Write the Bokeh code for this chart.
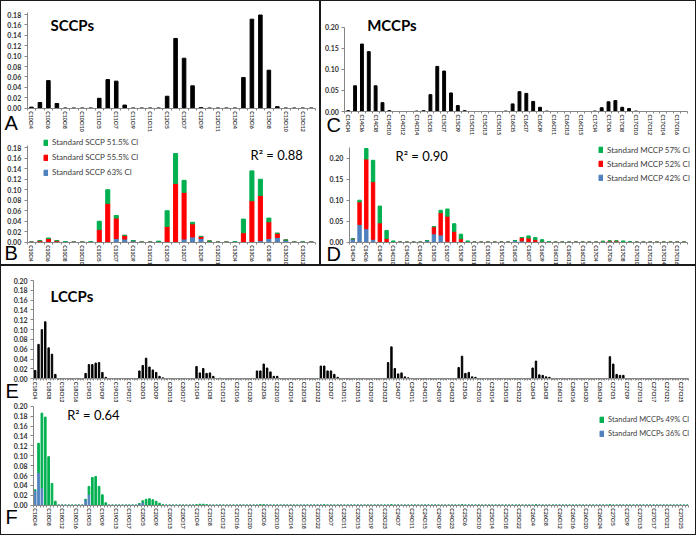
import math
from bokeh.plotting import figure
from bokeh.models import Range1d, FixedTicker, PrintfTickFormatter, Label, Legend, LegendItem, ColumnDataSource
from bokeh.layouts import column, row
from bokeh.embed import file_html
from bokeh.resources import INLINE

# ---------------- categories ----------------
SCCP_CARBONS = [10, 11, 12, 13]
MCCP_CARBONS = [14, 15, 16, 17]
LCCP_CARBONS = [18, 19, 20, 21, 22, 23, 24, 25, 26, 27]


def homologues(carbons):
    return [f"C{c}Cl{n}" for c in carbons for n in range(4, c + 1)]


sccp_cats = homologues(SCCP_CARBONS)
mccp_cats = homologues(MCCP_CARBONS)
lccp_cats = homologues(LCCP_CARBONS)

SCCP_TICK_LABELS = ["C10Cl4", "C10Cl6", "C10Cl8", "C10Cl10", "C11Cl5", "C11Cl7", "C11Cl9", "C11Cl11",
                    "C12Cl5", "C12Cl7", "C12Cl9", "C12Cl11", "C13Cl4", "C13Cl6", "C13Cl8", "C13Cl10", "C13Cl12"]
MCCP_TICK_LABELS = ["C14Cl4", "C14Cl6", "C14Cl8", "C14Cl10", "C14Cl12", "C14Cl14",
                    "C15Cl5", "C15Cl7", "C15Cl9", "C15Cl11", "C15Cl13", "C15Cl15",
                    "C16Cl5", "C16Cl7", "C16Cl9", "C16Cl11", "C16Cl13", "C16Cl15",
                    "C17Cl4", "C17Cl6", "C17Cl8", "C17Cl10", "C17Cl12", "C17Cl14", "C17Cl16"]
LCCP_TICK_LABELS = ["C18Cl4", "C18Cl8", "C18Cl12", "C18Cl16", "C19Cl5", "C19Cl9", "C19Cl13", "C19Cl17",
                    "C20Cl5", "C20Cl9", "C20Cl13", "C20Cl17", "C21Cl4", "C21Cl8", "C21Cl12", "C21Cl16", "C21Cl20",
                    "C22Cl6", "C22Cl10", "C22Cl14", "C22Cl18", "C22Cl22", "C23Cl7", "C23Cl11", "C23Cl15", "C23Cl19",
                    "C23Cl23", "C24Cl7", "C24Cl11", "C24Cl15", "C24Cl19", "C24Cl23", "C25Cl6", "C25Cl10", "C25Cl14",
                    "C25Cl18", "C25Cl22", "C26Cl4", "C26Cl8", "C26Cl12", "C26Cl16", "C26Cl20", "C26Cl24",
                    "C27Cl5", "C27Cl9", "C27Cl13", "C27Cl17", "C27Cl21", "C27Cl25"]

# ---------------- data (relative abundance) ----------------
SCCP_SAMPLE = {"C10Cl4": 0.002, "C10Cl5": 0.011, "C10Cl6": 0.053, "C10Cl7": 0.009,
               "C11Cl5": 0.019, "C11Cl6": 0.055, "C11Cl7": 0.052, "C11Cl8": 0.006,
               "C12Cl5": 0.023, "C12Cl6": 0.134, "C12Cl7": 0.096, "C12Cl8": 0.043, "C12Cl9": 0.001,
               "C13Cl5": 0.059, "C13Cl6": 0.171, "C13Cl7": 0.179, "C13Cl8": 0.073, "C13Cl9": 0.003}

SCCP_STD_63 = {"C11Cl7": 0.007, "C11Cl8": 0.006, "C11Cl9": 0.003, "C12Cl6": 0.001, "C12Cl7": 0.006,
               "C12Cl8": 0.010, "C12Cl9": 0.007, "C12Cl10": 0.002, "C13Cl6": 0.001, "C13Cl7": 0.003,
               "C13Cl8": 0.007, "C13Cl9": 0.009, "C13Cl10": 0.004}
SCCP_STD_555 = {"C10Cl5": 0.003, "C10Cl6": 0.007, "C10Cl7": 0.003, "C11Cl5": 0.024, "C11Cl6": 0.074,
                "C11Cl7": 0.039, "C11Cl8": 0.007, "C12Cl5": 0.030, "C12Cl6": 0.111, "C12Cl7": 0.089,
                "C12Cl8": 0.025, "C12Cl9": 0.004, "C13Cl5": 0.018, "C13Cl6": 0.078, "C13Cl7": 0.086,
                "C13Cl8": 0.032, "C13Cl9": 0.008}
SCCP_STD_515 = {"C10Cl6": 0.001, "C10Cl8": 0.001, "C11Cl4": 0.001, "C11Cl5": 0.016, "C11Cl6": 0.026,
                "C11Cl7": 0.005, "C12Cl4": 0.002, "C12Cl5": 0.030, "C12Cl6": 0.057, "C12Cl7": 0.023,
                "C12Cl8": 0.003, "C13Cl4": 0.001, "C13Cl5": 0.026, "C13Cl6": 0.057, "C13Cl7": 0.031,
                "C13Cl8": 0.007, "C13Cl12": 0.0005}

MCCP_SAMPLE = {"C14Cl4": 0.002, "C14Cl5": 0.061, "C14Cl6": 0.160, "C14Cl7": 0.142, "C14Cl8": 0.061,
               "C14Cl9": 0.021, "C14Cl10": 0.002, "C14Cl14": 0.001,
               "C15Cl4": 0.002, "C15Cl5": 0.040, "C15Cl6": 0.107, "C15Cl7": 0.096, "C15Cl8": 0.044,
               "C15Cl9": 0.014, "C15Cl10": 0.002,
               "C16Cl4": 0.001, "C16Cl5": 0.018, "C16Cl6": 0.047, "C16Cl7": 0.043, "C16Cl8": 0.024,
               "C16Cl9": 0.010, "C16Cl10": 0.001,
               "C17Cl4": 0.001, "C17Cl5": 0.009, "C17Cl6": 0.023, "C17Cl7": 0.026, "C17Cl8": 0.010,
               "C17Cl9": 0.007, "C17Cl10": 0.001}

MCCP_STD_42 = {"C14Cl4": 0.008, "C14Cl5": 0.042, "C14Cl6": 0.032, "C14Cl7": 0.007,
               "C15Cl4": 0.004, "C15Cl5": 0.020, "C15Cl6": 0.017, "C15Cl7": 0.002,
               "C16Cl5": 0.004, "C16Cl6": 0.003}
MCCP_STD_52 = {"C14Cl5": 0.054, "C14Cl6": 0.166, "C14Cl7": 0.137, "C14Cl8": 0.046, "C14Cl9": 0.009,
               "C15Cl5": 0.017, "C15Cl6": 0.053, "C15Cl7": 0.060, "C15Cl8": 0.026, "C15Cl9": 0.008,
               "C16Cl6": 0.008, "C16Cl7": 0.010, "C16Cl8": 0.006, "C16Cl9": 0.002,
               "C17Cl5": 0.002, "C17Cl6": 0.003, "C17Cl7": 0.003}
MCCP_STD_57 = {"C14Cl5": 0.004, "C14Cl6": 0.025, "C14Cl7": 0.051, "C14Cl8": 0.040, "C14Cl9": 0.019,
               "C14Cl10": 0.003, "C15Cl6": 0.006, "C15Cl7": 0.017, "C15Cl8": 0.018, "C15Cl9": 0.011,
               "C15Cl10": 0.003, "C16Cl7": 0.005, "C16Cl8": 0.005, "C16Cl9": 0.004, "C16Cl10": 0.001,
               "C17Cl8": 0.003, "C17Cl9": 0.001}

LCCP_SAMPLE = {"C18Cl4": 0.017, "C18Cl5": 0.070, "C18Cl6": 0.100, "C18Cl7": 0.116, "C18Cl8": 0.063,
               "C18Cl9": 0.050, "C18Cl10": 0.009,
               "C19Cl4": 0.011, "C19Cl5": 0.029, "C19Cl6": 0.029, "C19Cl7": 0.032, "C19Cl8": 0.033,
               "C19Cl9": 0.013, "C19Cl10": 0.003,
               "C20Cl4": 0.016, "C20Cl5": 0.027, "C20Cl6": 0.042, "C20Cl7": 0.024, "C20Cl8": 0.018,
               "C20Cl9": 0.013, "C20Cl10": 0.005, "C20Cl11": 0.002,
               "C21Cl4": 0.025, "C21Cl5": 0.012, "C21Cl6": 0.021, "C21Cl7": 0.011, "C21Cl8": 0.012,
               "C21Cl9": 0.005, "C21Cl11": 0.001,
               "C22Cl4": 0.016, "C22Cl5": 0.016, "C22Cl6": 0.030, "C22Cl7": 0.022, "C22Cl8": 0.014,
               "C22Cl9": 0.005, "C22Cl10": 0.005,
               "C23Cl4": 0.026, "C23Cl5": 0.026, "C23Cl6": 0.016, "C23Cl7": 0.016, "C23Cl8": 0.009,
               "C23Cl9": 0.003,
               "C24Cl4": 0.033, "C24Cl5": 0.065, "C24Cl6": 0.021, "C24Cl7": 0.010, "C24Cl8": 0.012,
               "C24Cl9": 0.004, "C24Cl10": 0.002,
               "C25Cl4": 0.023, "C25Cl5": 0.046, "C25Cl6": 0.011, "C25Cl7": 0.013, "C25Cl8": 0.004,
               "C25Cl9": 0.003,
               "C26Cl4": 0.022, "C26Cl5": 0.036, "C26Cl6": 0.008, "C26Cl7": 0.007, "C26Cl8": 0.004,
               "C26Cl9": 0.003,
               "C27Cl4": 0.045, "C27Cl5": 0.030, "C27Cl6": 0.009, "C27Cl7": 0.007, "C27Cl8": 0.007}

LCCP_STD_36 = {"C18Cl4": 0.030, "C18Cl5": 0.066, "C18Cl6": 0.035, "C19Cl4": 0.011, "C19Cl5": 0.022,
               "C20Cl4": 0.003, "C20Cl5": 0.006}
LCCP_STD_49 = {"C18Cl4": 0.001, "C18Cl5": 0.059, "C18Cl6": 0.151, "C18Cl7": 0.178, "C18Cl8": 0.098,
               "C18Cl9": 0.044, "C18Cl10": 0.008,
               "C19Cl4": 0.001, "C19Cl5": 0.016, "C19Cl6": 0.056, "C19Cl7": 0.058, "C19Cl8": 0.038,
               "C19Cl9": 0.021, "C19Cl10": 0.005,
               "C20Cl5": 0.003, "C20Cl6": 0.012, "C20Cl7": 0.013, "C20Cl8": 0.011, "C20Cl9": 0.008,
               "C20Cl10": 0.004, "C20Cl11": 0.001,
               "C21Cl4": 0.001, "C21Cl5": 0.002, "C21Cl6": 0.002, "C21Cl7": 0.001,
               "C22Cl5": 0.001, "C22Cl6": 0.001, "C23Cl5": 0.001, "C24Cl5": 0.001,
               "C25Cl5": 0.001, "C26Cl5": 0.001, "C27Cl4": 0.001}

Y_SCCP = [0.00, 0.02, 0.04, 0.06, 0.08, 0.10, 0.12, 0.14, 0.16, 0.18]
Y_MCCP = [0.00, 0.05, 0.10, 0.15, 0.20]
Y_LCCP = [0.00, 0.02, 0.04, 0.06, 0.08, 0.10, 0.12, 0.14, 0.16, 0.18, 0.20]

GREEN = "#00B050"
RED = "#FF0000"
BLUE = "#4F81BD"
AXIS = "#868686"
TXT = "#333333"
FONT = "Lato"


def series(cats, d):
    return [d.get(c, 0.0) for c in cats]


class Panel:
    """A figure whose frame fills the whole canvas; its axes are pinned inside it."""

    def __init__(self, width, height, cats, tick_labels, yticks, ybound, geo, xfont):
        # geo: pixel of first category edge, pixel of last category edge,
        #      pixel (from top) of the top tick, value of that tick, pixel of zero
        xl, xr, yt_px, yt_val, y0_px = geo
        n = len(cats)
        self.width, self.height = width, height
        self.sx = (xr - xl) / n
        self.sy = (y0_px - yt_px) / yt_val
        self.x0 = -0.5 - xl / self.sx
        x1 = n - 0.5 + (width - xr) / self.sx
        y0 = -(height - y0_px) / self.sy
        self.y1 = yt_val + yt_px / self.sy
        p = figure(width=width, height=height, x_range=Range1d(self.x0, x1), y_range=Range1d(y0, self.y1),
                   output_backend="svg", toolbar_location=None, title=None, min_border=0)
        p.xgrid.visible = False
        p.ygrid.visible = False
        p.outline_line_color = None
        p.background_fill_color = "white"
        p.border_fill_color = "white"
        pos = [cats.index(t) for t in tick_labels]
        xa, ya = p.xaxis[0], p.yaxis[0]
        xa.fixed_location = 0
        xa.bounds = (-0.5, n - 0.5)
        xa.ticker = FixedTicker(ticks=pos, minor_ticks=[i - 0.5 for i in range(n + 1)])
        xa.major_label_overrides = {k: t for k, t in zip(pos, tick_labels)}
        xa.major_label_orientation = -math.pi / 2
        xa.major_tick_line_color = None
        xa.major_tick_out = 0
        xa.major_tick_in = 0
        xa.minor_tick_line_color = AXIS
        xa.minor_tick_out = 2
        xa.minor_tick_in = 0
        xa.major_label_standoff = 1
        xa.major_label_text_font_size = xfont
        ya.fixed_location = -0.5
        ya.bounds = (0, ybound)
        ya.ticker = FixedTicker(ticks=yticks)
        ya.formatter = PrintfTickFormatter(format="%.2f")
        ya.major_tick_out = 3
        ya.major_tick_in = 0
        ya.minor_tick_line_color = None
        ya.major_tick_line_color = AXIS
        ya.major_label_standoff = 3
        ya.major_label_text_font_size = "7px"
        for ax in (xa, ya):
            ax.axis_line_color = AXIS
            ax.major_label_text_font = FONT
            ax.major_label_text_font_style = "bold"
            ax.major_label_text_color = TXT
        self.p = p
        self.n = n

    def text(self, px, py, text, size, bold=False, font=FONT):
        self.p.add_layout(Label(x=self.x0 + px / self.sx, y=self.y1 - py / self.sy, text=text,
                                text_font_size=size, text_font=font,
                                text_font_style="bold" if bold else "normal", text_color="black",
                                text_baseline="middle", text_align="left"))

    def legend(self, items, px, py_bottom, spacing, size="8px"):
        self.p.add_layout(Legend(items=items, location=(px, self.height - py_bottom), orientation="vertical",
                                 label_text_font=FONT, label_text_font_size=size, label_text_color="#404040",
                                 glyph_width=5, glyph_height=7, label_height=8, label_standoff=4,
                                 spacing=spacing, padding=0, margin=0, border_line_color=None,
                                 background_fill_alpha=0))


# ---------------- A ----------------
A = Panel(318, 132, sccp_cats, SCCP_TICK_LABELS, Y_SCCP, 0.1845, (25.7, 314, 13, 0.18, 106.7), "5.3px")
A.p.vbar(x=list(range(A.n)), top=series(sccp_cats, SCCP_SAMPLE), width=0.42, color="black")
A.text(49, 23, "SCCPs", "15px", bold=True)
A.text(3, 121.5, "A", "20px", font="Liberation Sans")

# ---------------- B ----------------
B = Panel(318, 131, sccp_cats, SCCP_TICK_LABELS, Y_SCCP, 0.185, (25.7, 314, 14.3, 0.18, 108.7), "5px")
src_b = ColumnDataSource(dict(x=list(range(B.n)),
                              s63=series(sccp_cats, SCCP_STD_63),
                              s555=series(sccp_cats, SCCP_STD_555),
                              s515=series(sccp_cats, SCCP_STD_515)))
rb = B.p.vbar_stack(["s63", "s555", "s515"], x="x", width=0.48, color=[BLUE, RED, GREEN], source=src_b)
B.legend([LegendItem(label="Standard SCCP 51.5% Cl", renderers=[rb[2]]),
          LegendItem(label="Standard SCCP 55.5% Cl", renderers=[rb[1]]),
          LegendItem(label="Standard SCCP 63% Cl", renderers=[rb[0]])], 42, 44.3, 5)
B.text(249, 21.3, "R² = 0.88", "13px")
B.text(3, 119.5, "B", "20px", font="Liberation Sans")

# ---------------- C ----------------
C = Panel(374, 134, mccp_cats, MCCP_TICK_LABELS, Y_MCCP, 0.2, (23.3, 365.8, 25.7, 0.20, 110), "5.3px")
C.p.vbar(x=list(range(C.n)), top=series(mccp_cats, MCCP_SAMPLE), width=0.42, color="black")
C.text(45.7, 23, "MCCPs", "15px", bold=True)
C.text(5, 123, "C", "20px", font="Liberation Sans")

# ---------------- D ----------------
D = Panel(374, 129, mccp_cats, MCCP_TICK_LABELS, Y_MCCP, 0.225, (27.9, 365.9, 22.7, 0.20, 106.7), "5px")
src_d = ColumnDataSource(dict(x=list(range(D.n)),
                              s42=series(mccp_cats, MCCP_STD_42),
                              s52=series(mccp_cats, MCCP_STD_52),
                              s57=series(mccp_cats, MCCP_STD_57)))
rd = D.p.vbar_stack(["s42", "s52", "s57"], x="x", width=0.5, color=[BLUE, RED, GREEN], source=src_d)
D.legend([LegendItem(label="Standard MCCP 57% Cl", renderers=[rd[2]]),
          LegendItem(label="Standard MCCP 52% Cl", renderers=[rd[1]]),
          LegendItem(label="Standard MCCP 42% Cl", renderers=[rd[0]])], 277, 47.7, 4)
D.text(74, 20, "R² = 0.90", "13px")
D.text(5, 118, "D", "20px", font="Liberation Sans")

# ---------------- E ----------------
E = Panel(694, 136, lccp_cats, LCCP_TICK_LABELS, Y_LCCP, 0.2, (32, 687.4, 14, 0.20, 112.3), "5.3px")
E.p.vbar(x=list(range(E.n)), top=series(lccp_cats, LCCP_SAMPLE), width=0.42, color="black")
E.text(49, 29, "LCCPs", "15px", bold=True)
E.text(4, 124, "E", "20px", font="Liberation Sans")

# ---------------- F ----------------
F = Panel(694, 132, lccp_cats, LCCP_TICK_LABELS, Y_LCCP, 0.2, (32, 687.4, 3.7, 0.20, 102.7), "5.3px")
src_f = ColumnDataSource(dict(x=list(range(F.n)),
                              s36=series(lccp_cats, LCCP_STD_36),
                              s49=series(lccp_cats, LCCP_STD_49)))
rf = F.p.vbar_stack(["s36", "s49"], x="x", width=0.5, color=[BLUE, GREEN], source=src_f)
F.legend([LegendItem(label="Standard MCCPs 49% Cl", renderers=[rf[1]]),
          LegendItem(label="Standard MCCPs 36% Cl", renderers=[rf[0]])], 598, 36.3, 5, size="7.5px")
F.text(65.7, 12, "R² = 0.64", "13px")
F.text(4, 114, "F", "20px", font="Liberation Sans")

BOX = {"border": "1px solid #1a1a1a"}
tl = column(A.p, B.p, spacing=0, styles=BOX)
tr = column(C.p, D.p, spacing=0, styles=BOX)
bot = column(E.p, F.p, spacing=0, styles=BOX)
page = column(row(tl, tr, spacing=0), bot, spacing=0)

open("out.html", "w").write(file_html(page, INLINE))
